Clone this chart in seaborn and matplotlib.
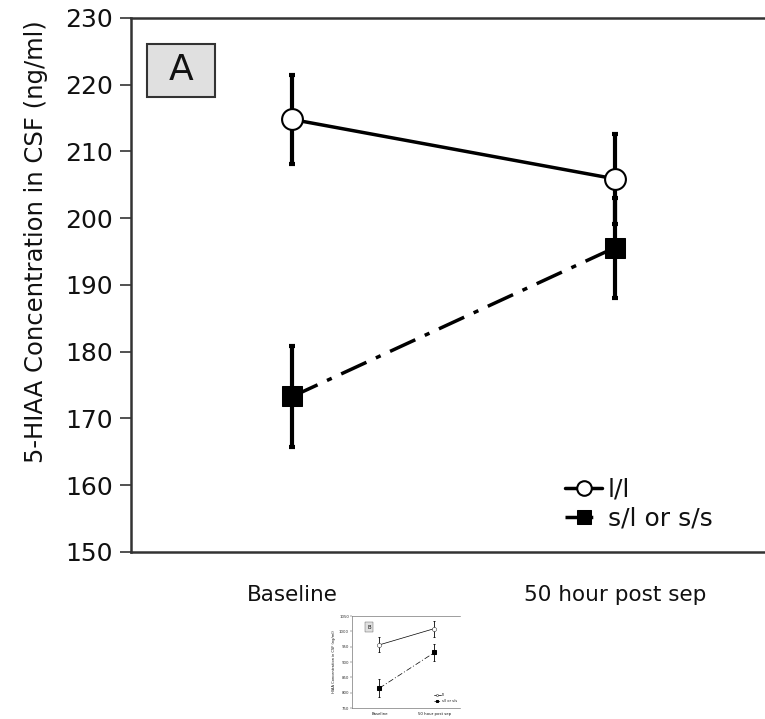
import numpy as np
import pandas as pd
import matplotlib
matplotlib.use('Agg')
import matplotlib.pyplot as plt
from matplotlib.patches import Rectangle
import seaborn as sns

sns.set_style('white')
plt.rcParams['font.family'] = ['DejaVu Sans']
plt.rcParams['text.color'] = '#111111'
plt.rcParams['axes.labelcolor'] = '#111111'
plt.rcParams['xtick.color'] = '#111111'
plt.rcParams['ytick.color'] = '#333333'

# panel A data
timepoints = ['Baseline', '50 hour post sep']
ll_mean = [214.8, 205.9]
ll_err = [6.7, 6.7]
sl_mean = [173.3, 195.6]
sl_err = [7.6, 7.5]
groups = ['l/l', 's/l or s/s']
y_ticks = [150, 160, 170, 180, 190, 200, 210, 220, 230]

# panel B (small inset) data
ll_mean_b = [956, 1009]
ll_err_b = [24, 26]
sl_mean_b = [815, 931]
sl_err_b = [28, 28]
y_ticks_b = [750, 800, 850, 900, 950, 1000, 1050]

fig = plt.figure(figsize=(7.65, 7.19), dpi=100)


def draw_panel(ax, ll_m, ll_e, sl_m, sl_e, scale=1.0):
    df = pd.DataFrame({
        'x': [0, 1, 0, 1],
        'val': ll_m + sl_m,
        'grp': [groups[0]] * 2 + [groups[1]] * 2,
    })
    lw = 2.5 * scale
    ms = 15 * scale
    sub = df[df.grp == groups[0]]
    sns.lineplot(data=sub, x='x', y='val', ax=ax, color='black', lw=lw,
                 marker='o', markersize=ms, markerfacecolor='white',
                 markeredgecolor='black', markeredgewidth=1.5 * scale,
                 label=groups[0], zorder=3)
    sub = df[df.grp == groups[1]]
    sns.lineplot(data=sub, x='x', y='val', ax=ax, color='black', lw=lw,
                 marker='s', markersize=ms, markerfacecolor='black',
                 markeredgecolor='black', label=groups[1], zorder=3)
    ax.lines[-1].set_linestyle((0, (8, 3, 1.5, 3)))
    for m, e in [(ll_m, ll_e), (sl_m, sl_e)]:
        ax.errorbar([0, 1], m, yerr=e, fmt='none', ecolor='black',
                    elinewidth=3 * scale, capsize=2.3 * scale,
                    capthick=3 * scale, zorder=2)


# main panel
ax = fig.add_axes([131 / 765, 1 - 552 / 719, 1 - 131 / 765, (552 - 18) / 719])
draw_panel(ax, ll_mean, ll_err, sl_mean, sl_err)
ax.legend(loc='lower right', bbox_to_anchor=(0.949, 0.002), frameon=False,
          fontsize=18, handlelength=1.45, handletextpad=0.25,
          labelspacing=0.22, markerscale=0.7, borderaxespad=0.4)
ax.set_xlim(-0.5, 1.465)
ax.set_ylim(150, 230)
ax.set_yticks(y_ticks)
ax.set_xticks([0, 1])
ax.set_xticklabels(timepoints, fontsize=15.5)
ax.tick_params(axis='x', length=0, pad=24)
ax.tick_params(axis='y', direction='out', length=8, width=1.2, labelsize=18,
               left=True, pad=5, labelcolor='#111111')
ax.set_xlabel('')
ax.set_ylabel('5-HIAA Concentration in CSF (ng/ml)', fontsize=17.5)
ax.yaxis.set_label_coords(-0.131, 0.582)
for s in ['left', 'bottom', 'top']:
    ax.spines[s].set_color('#333333')
    ax.spines[s].set_linewidth(1.8)
ax.spines['right'].set_visible(False)
ax.add_patch(Rectangle((0.0252, 0.852), 0.1073, 0.099, transform=ax.transAxes,
                       facecolor='#e0e0e0', edgecolor='#333333', lw=1.5,
                       zorder=4))
ax.text(0.079, 0.902, 'A', transform=ax.transAxes, fontsize=26,
        ha='center', va='center', color='#111111', zorder=5)

# small inset (panel B)
axb = fig.add_axes([352 / 765, 1 - 708 / 719, 108 / 765, 92 / 719])
draw_panel(axb, ll_mean_b, ll_err_b, sl_mean_b, sl_err_b, scale=0.2)
axb.legend(loc='lower right', bbox_to_anchor=(1.0, 0.02), frameon=False,
           fontsize=2.6, handlelength=2.0, handletextpad=0.2,
           labelspacing=0.5, markerscale=0.5)
axb.set_xlim(-0.5, 1.465)
axb.set_ylim(750, 1050)
axb.set_yticks(y_ticks_b)
axb.set_xticks([0, 1])
axb.set_xticklabels(timepoints, fontsize=2.8)
axb.tick_params(axis='x', length=0, pad=3)
axb.tick_params(axis='y', direction='out', length=1.2, width=0.3,
                labelsize=2.8, left=True, pad=1)
axb.set_xlabel('')
axb.set_ylabel('HIAA Concentration in CSF (ng/ml)', fontsize=2.6, labelpad=2)
for s in ['left', 'bottom', 'top']:
    axb.spines[s].set_color('#555555')
    axb.spines[s].set_linewidth(0.4)
axb.spines['right'].set_visible(False)
axb.text(0.16, 0.88, 'B', transform=axb.transAxes, fontsize=4,
         ha='center', va='center',
         bbox=dict(boxstyle='square,pad=0.4', facecolor='#e0e0e0',
                   edgecolor='#555555', lw=0.3))

fig.savefig('out.png', dpi=100)
